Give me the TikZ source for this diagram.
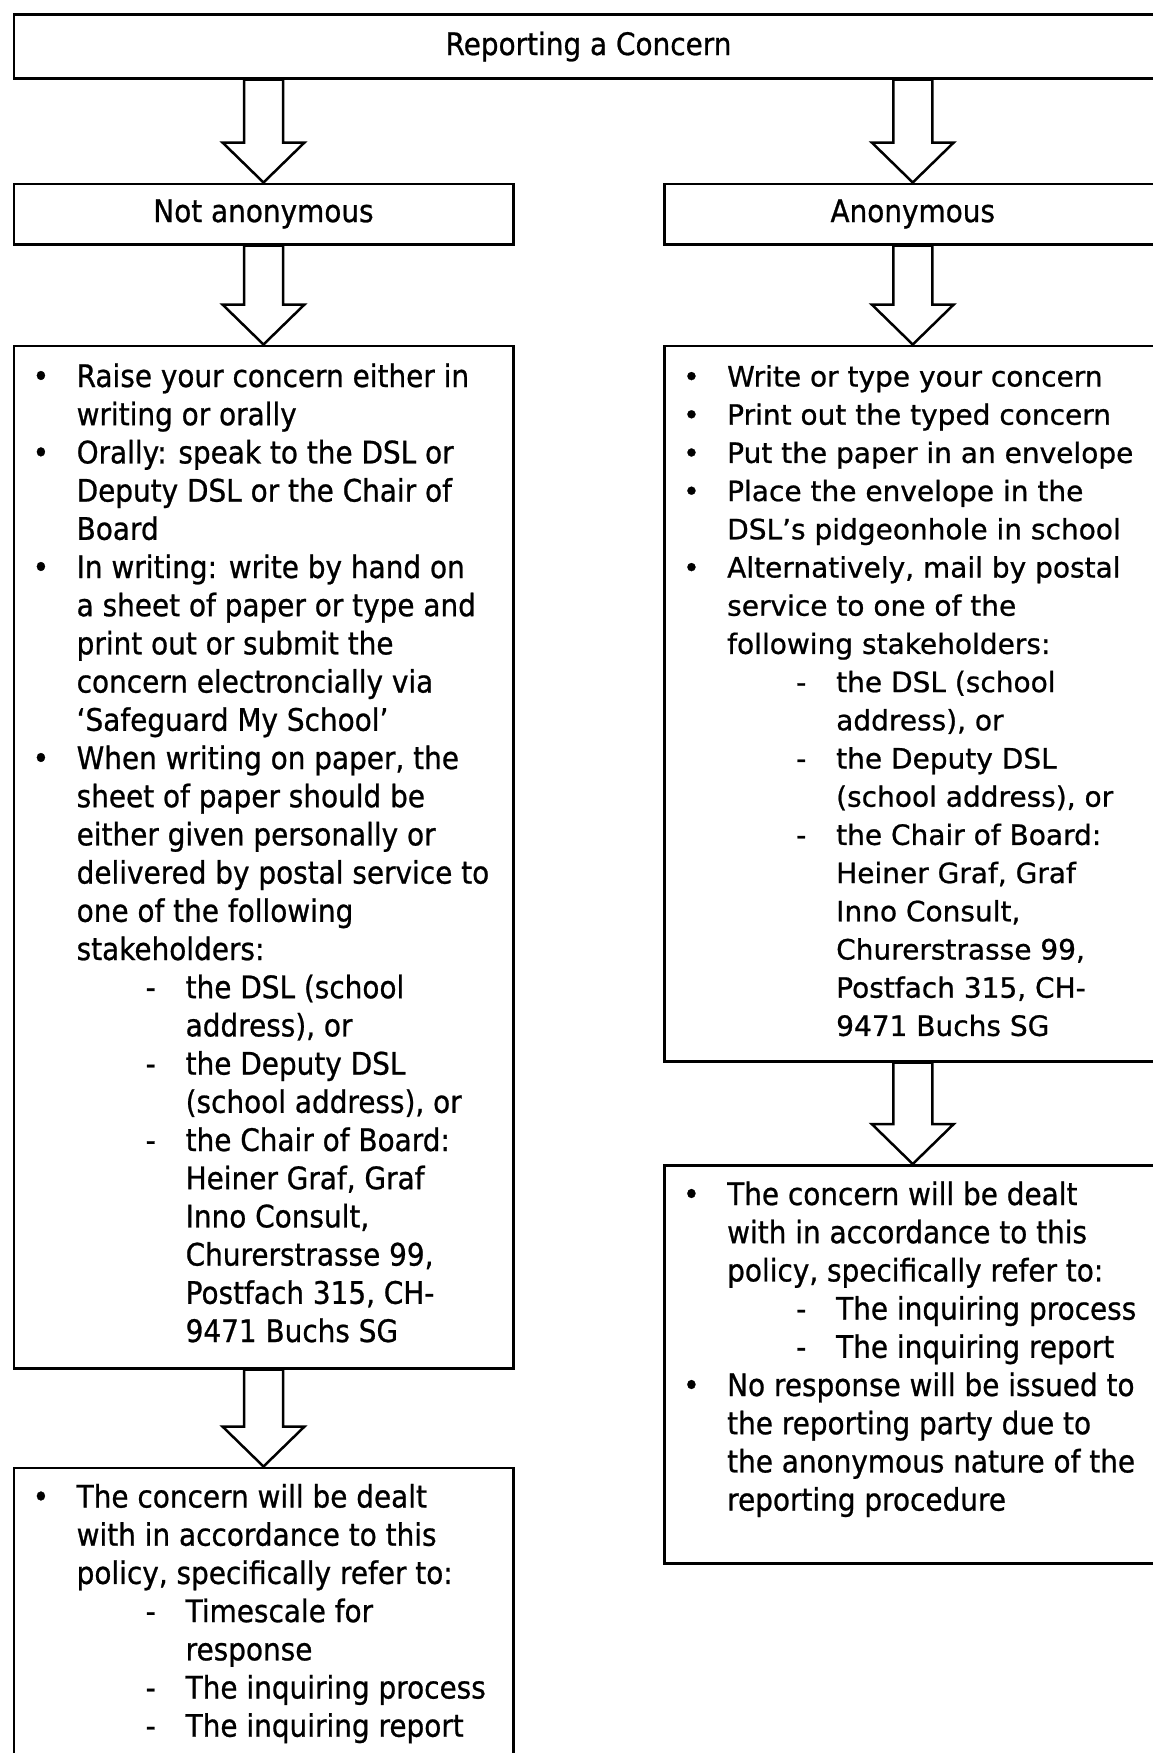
\documentclass[tikz,border=0pt]{standalone}
\usepackage{fontspec}
\setmainfont{DejaVu Sans}[FakeStretch=0.9,FakeBold=0.8]
\newfontfamily\verdfont{DejaVu Sans}[FakeBold=0.8]
\usetikzlibrary{calc}
\newcommand\ItB[1]{\makebox[64pt][l]{\hspace*{20pt}•}#1}
\newcommand\ItT[1]{\hspace*{64pt}#1}
\newcommand\ItD[1]{\makebox[173pt][l]{\hspace*{133pt}-}#1}
\newcommand\ItS[1]{\hspace*{173pt}#1}
\newcommand\BlockArrow[2]{%
  \draw[hollowarrow] let \p1=(#1.south -| #2.north), \p2=(#2.north) in
    (\x1-19.5pt,\y1) -- (\x1-19.5pt,\y2+40pt) -- (\x1-41pt,\y2+40pt) -- (\x2,\y2)
    -- (\x1+41pt,\y2+40pt) -- (\x1+19.5pt,\y2+40pt) -- (\x1+19.5pt,\y1) -- cycle;}
\tikzset{
  boxframe/.style={draw=black, line width=2.5pt, fill=white, inner sep=0pt, anchor=north west},
  hollowarrow/.style={draw=black, fill=white, line width=2.5pt, line join=miter},
  tahoma/.style={font=\fontsize{31}{38.2}\selectfont, inner sep=0pt, anchor=base west},
  verdana/.style={font=\verdfont\fontsize{28}{38.2}\selectfont, inner sep=0pt, anchor=base west},
  titletext/.style={font=\fontsize{31}{38.2}\selectfont}
}
\begin{document}
\begin{tikzpicture}[x=1pt,y=-1pt]
\useasboundingbox (0,0) rectangle (1153,1753);
\fill[white] (0,0) rectangle (1153,1753);
\clip (0,0) rectangle (1153,1753);

% boxes
\node[boxframe, minimum width=1149.5pt, minimum height=63.5pt, titletext] (top) at (12.5,13.5) {};
\node[titletext] at (top.center) {Reporting a Concern};
\node[boxframe, minimum width=499.5pt, minimum height=60.5pt] (na) at (12.5,182.5) {};
\node[titletext] at (na.center) {Not anonymous};
\node[boxframe, minimum width=497pt, minimum height=60.5pt] (an) at (663,182.5) {};
\node[titletext] at (an.center) {Anonymous};
\node[boxframe, minimum width=499.5pt, minimum height=1022.5pt] (lb) at (12.5,344.5) {};
\node[boxframe, minimum width=497pt, minimum height=715.5pt] (rb) at (663,344.5) {};
\node[boxframe, minimum width=497pt, minimum height=398pt] (rs) at (663,1164) {};
\node[boxframe, minimum width=499.5pt, minimum height=330pt] (ls) at (12.5,1466.5) {};

% arrows
\BlockArrow{top}{na}
\BlockArrow{top}{an}
\BlockArrow{na}{lb}
\BlockArrow{an}{rb}
\BlockArrow{lb}{ls}
\BlockArrow{rb}{rs}

% texts
\node[tahoma] (lbt) at ($(lb.north west)+(0,42.5)$) {\begin{tabular}[t]{@{}l@{}}
\ItB{Raise your concern either in}\\
\ItT{writing or orally}\\
\ItB{Orally: speak to the DSL or}\\
\ItT{Deputy DSL or the Chair of}\\
\ItT{Board}\\
\ItB{In writing: write by hand on}\\
\ItT{a sheet of paper or type and}\\
\ItT{print out or submit the}\\
\ItT{concern electroncially via}\\
\ItT{‘Safeguard My School’}\\
\ItB{When writing on paper, the}\\
\ItT{sheet of paper should be}\\
\ItT{either given personally or}\\
\ItT{delivered by postal service to}\\
\ItT{one of the following}\\
\ItT{stakeholders:}\\
\ItD{the DSL (school}\\
\ItS{address), or}\\
\ItD{the Deputy DSL}\\
\ItS{(school address), or}\\
\ItD{the Chair of Board:}\\
\ItS{Heiner Graf, Graf}\\
\ItS{Inno Consult,}\\
\ItS{Churerstrasse 99,}\\
\ItS{Postfach 315, CH-}\\
\ItS{9471 Buchs SG}
\end{tabular}};

\node[verdana] (rbt) at ($(rb.north west)+(0,42)$) {\begin{tabular}[t]{@{}l@{}}
\ItB{Write or type your concern}\\
\ItB{Print out the typed concern}\\
\ItB{Put the paper in an envelope}\\
\ItB{Place the envelope in the}\\
\ItT{DSL’s pidgeonhole in school}\\
\ItB{Alternatively, mail by postal}\\
\ItT{service to one of the}\\
\ItT{following stakeholders:}\\
\ItD{the DSL (school}\\
\ItS{address), or}\\
\ItD{the Deputy DSL}\\
\ItS{(school address), or}\\
\ItD{the Chair of Board:}\\
\ItS{Heiner Graf, Graf}\\
\ItS{Inno Consult,}\\
\ItS{Churerstrasse 99,}\\
\ItS{Postfach 315, CH-}\\
\ItS{9471 Buchs SG}
\end{tabular}};

\node[tahoma] (rst) at ($(rs.north west)+(0,41)$) {\begin{tabular}[t]{@{}l@{}}
\ItB{The concern will be dealt}\\
\ItT{with in accordance to this}\\
\ItT{policy, specifically refer to:}\\
\ItD{The inquiring process}\\
\ItD{The inquiring report}\\
\ItB{No response will be issued to}\\
\ItT{the reporting party due to}\\
\ItT{the anonymous nature of the}\\
\ItT{reporting procedure}
\end{tabular}};

\node[tahoma] (lst) at ($(ls.north west)+(0,41)$) {\begin{tabular}[t]{@{}l@{}}
\ItB{The concern will be dealt}\\
\ItT{with in accordance to this}\\
\ItT{policy, specifically refer to:}\\
\ItD{Timescale for}\\
\ItS{response}\\
\ItD{The inquiring process}\\
\ItD{The inquiring report}
\end{tabular}};
\end{tikzpicture}
\end{document}
